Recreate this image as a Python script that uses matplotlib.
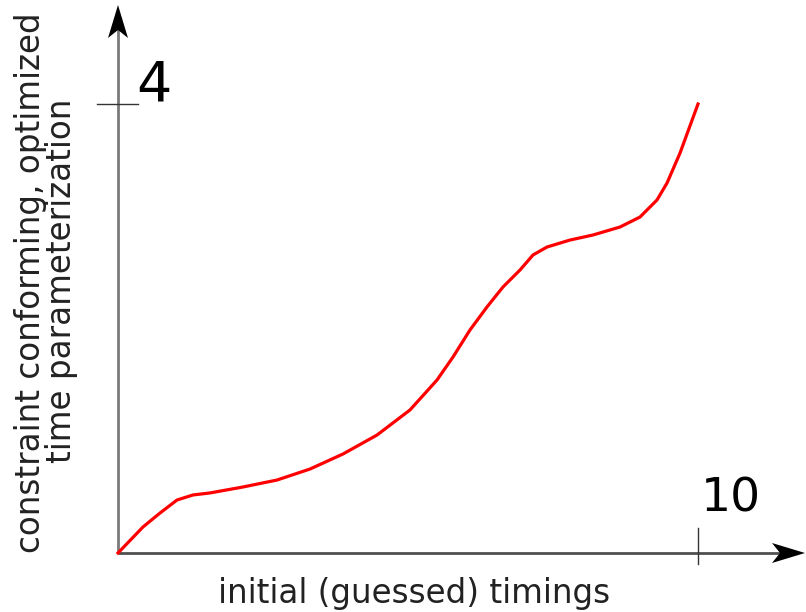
import matplotlib
matplotlib.use("Agg")
import matplotlib.pyplot as plt
from matplotlib.patches import Polygon

# Data
x_vals = [0, 0.431, 0.724, 1.017, 1.293, 1.586, 2.155, 2.741, 3.310, 3.879,
          4.466, 5.034, 5.500, 5.776, 6.069, 6.362, 6.638, 6.931, 7.155,
          7.397, 7.793, 8.190, 8.655, 9.000, 9.293, 9.466, 9.690, 10.0]
y_vals = [0, 0.232, 0.356, 0.472, 0.517, 0.535, 0.588, 0.650, 0.748, 0.882,
          1.051, 1.274, 1.541, 1.746, 1.987, 2.192, 2.370, 2.521, 2.655,
          2.726, 2.788, 2.833, 2.904, 2.993, 3.145, 3.296, 3.563, 4.0]
x_tick_label = "10"
y_tick_label = "4"
x_tick_value = 10
y_tick_value = 4
x_label = "initial (guessed) timings"
y_label_lines = ["constraint conforming, optimized", "time parameterization"]

W, H = 806, 612
fig = plt.figure(figsize=(W / 100, H / 100), dpi=100)
ax = fig.add_axes([0, 0, 1, 1])

# pixel geometry
ox, oy = 118, 553          # origin pixel
sx = (698 - 118) / 10      # px per x unit
sy = (553 - 104) / 4       # px per y unit

ax.set_xlim(-ox / sx, (W - ox) / sx)
ax.set_ylim(-(H - oy) / sy, oy / sy)
ax.axis("off")

x_end = (805 - ox) / sx
y_end = (oy - 5) / sy

# axes lines
ax.plot([0, x_end - 20 / sx], [0, 0], color="#505050", lw=2.0, solid_capstyle="butt", zorder=2)
ax.plot([0, 0], [0, y_end - 20 / sy], color="#7a7a7a", lw=2.0, solid_capstyle="butt", zorder=2)

# arrow heads (notched)
hl, hw, notch = 33, 10, 8
yh = Polygon([(0, y_end), (-hw / sx, y_end - hl / sy), (0, y_end - (hl - notch) / sy),
              (hw / sx, y_end - hl / sy)], closed=True, color="black", lw=0, zorder=3)
xh = Polygon([(x_end, 0), (x_end - hl / sx, hw / sy), (x_end - (hl - notch) / sx, 0),
              (x_end - hl / sx, -hw / sy)], closed=True, color="black", lw=0, zorder=3)
ax.add_patch(yh)
ax.add_patch(xh)

# ticks
ax.plot([-21 / sx, 20 / sx], [y_tick_value, y_tick_value], color="#333333", lw=1.0, zorder=2)
ax.plot([x_tick_value, x_tick_value], [-11 / sy, 25 / sy], color="#333333", lw=1.0, zorder=2)

# tick labels
ax.text(18 / sx, y_tick_value + 4 / sy, y_tick_label, fontsize=40, ha="left", va="baseline",
        color="black", family="DejaVu Sans")
ax.text(x_tick_value + 3 / sx, 41 / sy, x_tick_label, fontsize=34, ha="left", va="baseline",
        color="black", family="DejaVu Sans")

# curve
ax.plot(x_vals, y_vals, color="#ff0000", lw=2.3, zorder=4, solid_joinstyle="round")

# axis labels
fs = 23.5
ax.text((414 - ox) / sx, -(593 - oy) / sy, x_label, fontsize=fs, ha="center", va="center",
        color="#222222", family="DejaVu Sans")
ax.text(-(ox - 31) / sx, (oy - 283) / sy, y_label_lines[0], fontsize=fs, ha="center",
        va="center", rotation=90, color="#222222", family="DejaVu Sans")
ax.text(-(ox - 62) / sx, (oy - 281) / sy, y_label_lines[1], fontsize=fs, ha="center",
        va="center", rotation=90, color="#222222", family="DejaVu Sans")

fig.savefig("out.png", dpi=100)
